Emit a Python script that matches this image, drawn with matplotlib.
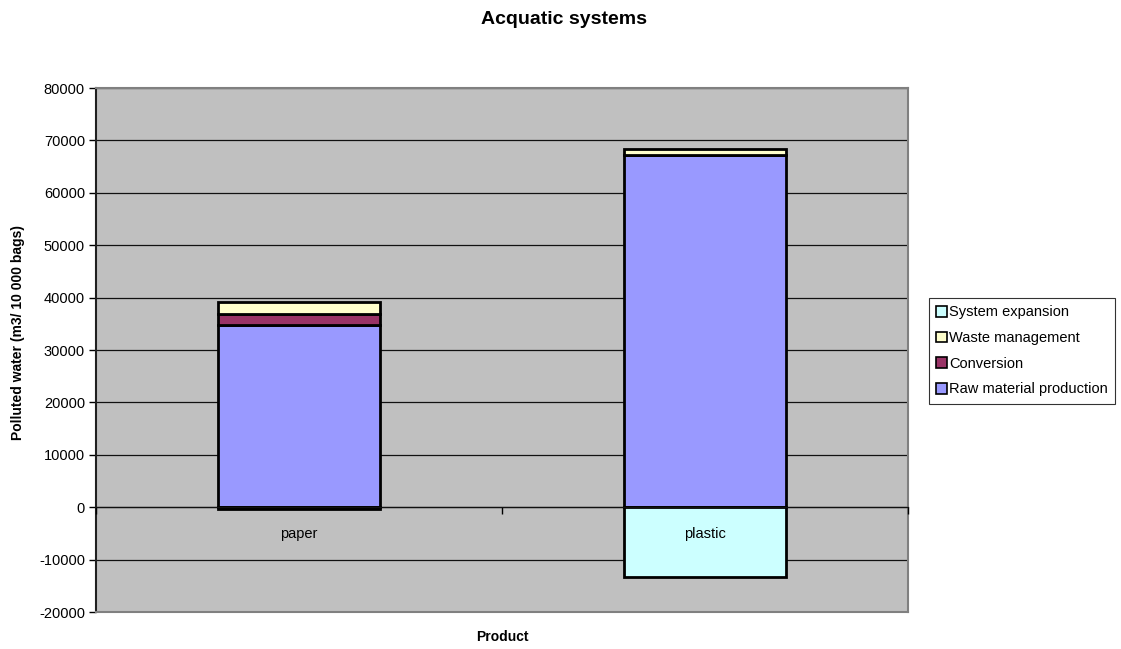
import matplotlib
matplotlib.use("Agg")
import matplotlib.pyplot as plt
from matplotlib.patches import Patch

plt.rcParams['font.family'] = ['Liberation Sans', 'DejaVu Sans']

products = ["paper", "plastic"]
raw_material = [34700, 67200]
conversion = [2100, 0]
waste_management = [2400, 1100]
system_expansion = [-400, -13300]

y_ticks = [-20000, -10000, 0, 10000, 20000, 30000, 40000, 50000, 60000, 70000, 80000]

colors = {
    "System expansion": "#CCFFFF",
    "Waste management": "#FFFFCC",
    "Conversion": "#993366",
    "Raw material production": "#9999FF",
}

fig = plt.figure(figsize=(11.21, 6.49), dpi=100)
ax = fig.add_axes([96 / 1121, 37 / 649, 812 / 1121, 524 / 649])
ax.set_facecolor("#C0C0C0")

x = list(range(len(products)))
width = 0.4
edge = dict(edgecolor="black", linewidth=2.0, zorder=3)

ax.bar(x, raw_material, width, color=colors["Raw material production"], **edge)
bottom = raw_material[:]
ax.bar(x, conversion, width, bottom=bottom, color=colors["Conversion"], **edge)
bottom = [b + c for b, c in zip(bottom, conversion)]
ax.bar(x, waste_management, width, bottom=bottom, color=colors["Waste management"], **edge)
ax.bar(x, system_expansion, width, color=colors["System expansion"], **edge)

ax.set_xlim(-0.5, 1.5)
ax.set_ylim(-20000, 80000)
ax.set_yticks(y_ticks)
ax.set_yticklabels([str(v) for v in y_ticks], fontsize=10.5)
ax.tick_params(axis="y", direction="out", length=5, width=1, pad=3)
ax.yaxis.grid(True, color="#111111", linewidth=0.9, zorder=1)
ax.set_axisbelow(True)

# category axis sits on the zero line
ax.set_xticks([])
sec = ax.secondary_xaxis(0.2)
sec.set_zorder(5)
sec.set_xticks([-0.5, 0.5, 1.5])
sec.set_xticklabels(["", "", ""])
sec.set_xticks(x, minor=True)
sec.set_xticklabels(products, minor=True, fontsize=10.5)
sec.tick_params(axis="x", which="major", direction="out", length=5, width=1)
sec.tick_params(axis="x", which="minor", length=0, pad=14)
sec.spines["bottom"].set_color("#111111")
sec.spines["bottom"].set_linewidth(0.9)

for side in ("top", "right", "bottom"):
    ax.spines[side].set_color("#808080")
    ax.spines[side].set_linewidth(1.5)
ax.spines["left"].set_color("#202020")
ax.spines["left"].set_linewidth(1.5)

ax.set_ylabel("Polluted water (m3/ 10 000 bags)", fontsize=10, fontweight="bold")
ax.yaxis.set_label_coords(-0.088, 0.534)
fig.text((96 + 812 / 2) / 1121, 1 - 637 / 649, "Product", ha="center", va="center",
         fontsize=10, fontweight="bold")
fig.text(564 / 1121, 1 - 20 / 649, "Acquatic systems", ha="center", va="center",
         fontsize=14, fontweight="bold")

handles = [Patch(facecolor=colors[k], edgecolor="black", linewidth=1.2, label=k)
           for k in ["System expansion", "Waste management", "Conversion", "Raw material production"]]
leg = fig.legend(handles=handles, loc="upper left", bbox_to_anchor=(929 / 1121, 1 - 298 / 649),
                 fontsize=10.5, frameon=True, fancybox=False, handlelength=0.75, handleheight=0.75,
                 handletextpad=0.15, labelspacing=0.8, borderpad=0.5, borderaxespad=0)
leg.get_frame().set_edgecolor("black")
leg.get_frame().set_linewidth(0.8)

fig.savefig("out.png", dpi=100, facecolor="white")
